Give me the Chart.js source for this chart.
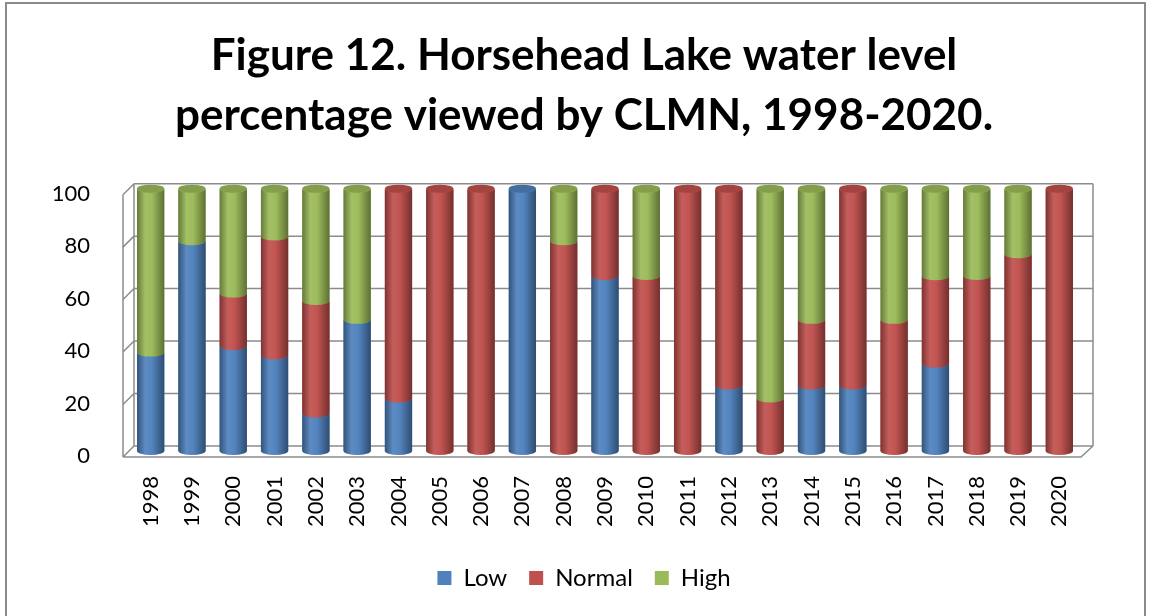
<!DOCTYPE html>
<html>
<head>
<meta charset="utf-8">
<script src="https://cdn.jsdelivr.net/npm/chart.js@4.4.1/dist/chart.umd.min.js"></script>
<style>
  html, body { margin: 0; padding: 0; background: #fff; }
  #wrap { position: relative; width: 1152px; height: 616px; overflow: hidden; }
  #frame { position: absolute; left: 5px; top: 2px; width: 1141px; height: 640px;
           border: 2px solid #8a8a8a; box-sizing: border-box; pointer-events: none; }
  canvas { position: absolute; left: 0; top: 0; }
</style>
</head>
<body>
<div id="wrap">
  <canvas id="c" width="1152" height="616"></canvas>
  <div id="frame"></div>
</div>
<script>
// Share of CLMN water-level observations per year (percent)
const years = ['1998','1999','2000','2001','2002','2003','2004','2005','2006','2007','2008',
               '2009','2010','2011','2012','2013','2014','2015','2016','2017','2018','2019','2020'];
const lowPct    = [37.5, 80, 40, 36.4, 14.3, 50, 20,   0,   0, 100,  0, 66.7,    0,   0, 25,  0, 25, 25,  0, 33.3,    0,  0,   0];
const normalPct = [   0,  0, 20, 45.4, 42.9,  0, 80, 100, 100,   0, 80, 33.3, 66.7, 100, 75, 20, 25, 75, 50, 33.3, 66.7, 75, 100];
const highPct   = [62.5, 20, 40, 18.2, 42.8, 50,  0,   0,   0,   0, 20,    0, 33.3,   0,  0, 80, 50,  0, 50, 33.4, 33.3, 25,   0];
const yTicks    = [0, 20, 40, 60, 80, 100];

const FONT = "Lato, 'Open Sans', sans-serif";
const GRID = '#8c8c8c';

function shade(hex, f) {
  const n = parseInt(hex.slice(1), 16);
  let r = (n >> 16) & 255, g = (n >> 8) & 255, b = n & 255;
  const m = c => Math.max(0, Math.min(255, Math.round(f < 0 ? c * (1 + f) : c + (255 - c) * f)));
  return `rgb(${m(r)},${m(g)},${m(b)})`;
}

// Box walls and floor in a shallow 3-D look, built from the y scale
const wallPlugin = {
  id: 'walls',
  beforeDatasetsDraw(chart) {
    const { ctx, chartArea: a, scales: { y } } = chart;
    const fx = -7, fy = 6, bx = 4, by = -5, bxr = 13;
    const y0 = y.getPixelForValue(0), y1 = y.getPixelForValue(100);
    ctx.save();
    ctx.strokeStyle = GRID;
    ctx.lineWidth = 1.5;
    ctx.beginPath();
    yTicks.forEach(v => {
      const p = y.getPixelForValue(v);
      ctx.moveTo(a.left + bx, p + by); ctx.lineTo(a.right + bxr, p + by);   // back wall
      ctx.moveTo(a.left + fx, p + fy); ctx.lineTo(a.left + bx, p + by);     // side wall
    });
    ctx.moveTo(a.left + bx, y0 + by); ctx.lineTo(a.left + bx, y1 + by);
    ctx.moveTo(a.left + fx, y0 + fy); ctx.lineTo(a.left + fx, y1 + fy);
    ctx.moveTo(a.right + bxr, y0 + by); ctx.lineTo(a.right + bxr, y1 + by);
    // floor
    ctx.moveTo(a.left + fx, y0 + fy); ctx.lineTo(a.right + 1, y0 + fy);
    ctx.lineTo(a.right + bxr, y0 + by);
    ctx.stroke();
    ctx.restore();
  }
};

// Cylinder shading: side gradient, rounded base, elliptical joins and top caps
const cylinderPlugin = {
  id: 'cylinders',
  afterDatasetsDraw(chart) {
    const ctx = chart.ctx;
    const n = chart.data.labels.length;
    const ry = 4;
    const topIdx = new Array(n).fill(-1);
    chart.data.datasets.forEach((ds, d) => ds.data.forEach((v, i) => {
      if (v > 0) topIdx[i] = d;
    }));
    ctx.save();
    chart.data.datasets.forEach((ds, d) => {
      const meta = chart.getDatasetMeta(d);
      meta.data.forEach((el, i) => {
        if (!(ds.data[i] > 0)) return;
        const { x, y, base, width } = el.getProps(['x', 'y', 'base', 'width'], true);
        const l = x - width / 2, rx = width / 2;
        const col = ds.backgroundColor;
        const g = ctx.createLinearGradient(l, 0, l + width, 0);
        g.addColorStop(0, shade(col, -0.35));
        g.addColorStop(0.3, shade(col, 0.08));
        g.addColorStop(0.55, shade(col, 0.02));
        g.addColorStop(1, shade(col, -0.40));
        ctx.fillStyle = g;
        ctx.beginPath();
        ctx.moveTo(l, y);
        ctx.lineTo(l, base);
        ctx.ellipse(x, base, rx, ry, 0, Math.PI, 0, true);
        ctx.lineTo(l + width, y);
        ctx.ellipse(x, y, rx, ry, 0, 0, Math.PI, false);
        ctx.closePath();
        ctx.fill();
        if (d === topIdx[i]) {
          ctx.fillStyle = shade(col, -0.15);
          ctx.beginPath();
          ctx.ellipse(x, y, rx, ry, 0, 0, Math.PI * 2);
          ctx.fill();
        }
      });
    });
    ctx.restore();
  }
};

new Chart(document.getElementById('c'), {
  type: 'bar',
  data: {
    labels: years,
    datasets: [
      { label: 'Low',    data: lowPct,    backgroundColor: '#4F81BD' },
      { label: 'Normal', data: normalPct, backgroundColor: '#C0504D' },
      { label: 'High',   data: highPct,   backgroundColor: '#9BBB59' }
    ]
  },
  options: {
    responsive: false,
    animation: false,
    layout: { padding: { left: 16, right: 0, top: 26, bottom: 16 } },
    datasets: { bar: { categoryPercentage: 1, barPercentage: 0.66, borderWidth: 0 } },
    plugins: {
      title: {
        display: true,
        text: ['Figure 12. Horsehead Lake water level', 'percentage viewed by CLMN, 1998-2020.'],
        color: '#000',
        font: { family: FONT, size: 44, weight: 'bold', lineHeight: 1.36 },
        padding: { top: 0, bottom: 43 }
      },
      legend: {
        position: 'bottom',
        labels: {
          color: '#000', boxWidth: 14, boxHeight: 14, padding: 22,
          font: { family: FONT, size: 24 }
        }
      },
      tooltip: { enabled: false }
    },
    scales: {
      x: {
        stacked: true,
        grid: { display: false },
        border: { display: false },
        ticks: { color: '#000', minRotation: 90, maxRotation: 90, padding: 17,
                 font: { family: FONT, size: 22 } }
      },
      y: {
        stacked: true,
        min: 0, max: 100,
        grid: { display: false },
        border: { display: false },
        afterFit: s => { s.width = 114; },
        ticks: { color: '#000', stepSize: 20, padding: 32, labelOffset: 5,
                 font: { family: FONT, size: 22 } }
      },
      side: {
        position: 'right',
        grid: { display: false },
        border: { display: false },
        ticks: { display: false },
        afterFit: s => { s.width = 72; }
      }
    }
  },
  plugins: [wallPlugin, cylinderPlugin]
});
</script>
</body>
</html>
